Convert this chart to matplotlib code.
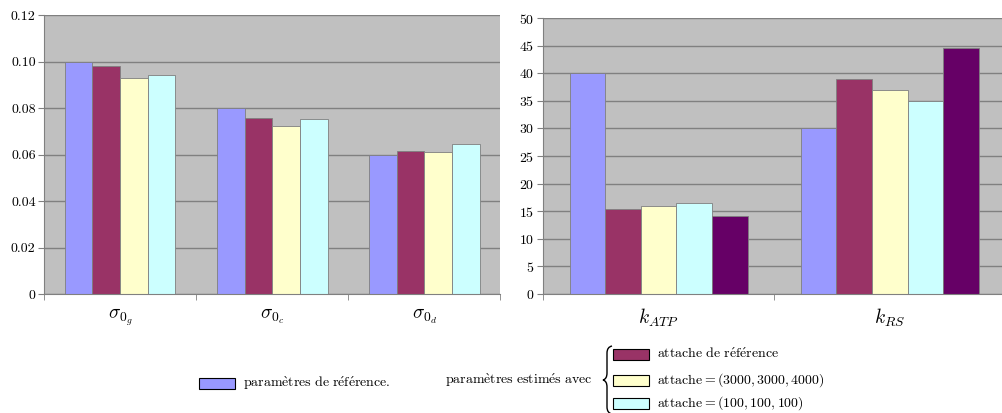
import numpy as np
import matplotlib
matplotlib.use("Agg")
import matplotlib.pyplot as plt
from matplotlib.patches import Rectangle, PathPatch
from matplotlib.path import Path

plt.rcParams["font.family"] = ["cmr10", "DejaVu Serif"]
plt.rcParams["mathtext.fontset"] = "cm"
plt.rcParams["axes.unicode_minus"] = False
plt.rcParams["axes.formatter.use_mathtext"] = True

# données - panneau gauche (sigma)
sigma_labels = [r"$\sigma_{0_g}$", r"$\sigma_{0_c}$", r"$\sigma_{0_d}$"]
sigma_ref = [0.100, 0.080, 0.060]
sigma_att_ref = [0.098, 0.0757, 0.0614]
sigma_att_3000 = [0.093, 0.0721, 0.0609]
sigma_att_100 = [0.094, 0.0753, 0.0646]
sigma_ticks = [0, 0.02, 0.04, 0.06, 0.08, 0.10, 0.12]
sigma_ticklabels = ["0", "0.02", "0.04", "0.06", "0.08", "0.10", "0.12"]

# données - panneau droit (k)
k_labels = [r"$k_{ATP}$", r"$k_{RS}$"]
k_ref = [40, 30]
k_att_ref = [15.4, 38.9]
k_att_3000 = [15.9, 36.9]
k_att_100 = [16.4, 34.9]
k_extra = [14.1, 44.6]
k_ticks = list(range(0, 55, 5))

colors = ["#9999FF", "#993366", "#FFFFCC", "#CCFFFF", "#660066"]
W, H = 1003, 413

fig = plt.figure(figsize=(W / 100, H / 100), dpi=100)


def px(x, y):
    return x / W, 1 - y / H


def style_axes(ax):
    ax.set_facecolor("#C0C0C0")
    ax.grid(True, axis="y", color="#808080", linewidth=1)
    ax.set_axisbelow(True)
    for s in ["top", "right"]:
        ax.spines[s].set_visible(False)
    for s in ["left", "bottom"]:
        ax.spines[s].set_color("#808080")
    ax.tick_params(axis="y", length=4, color="#808080", pad=2, labelsize=10)
    ax.tick_params(axis="x", which="major", length=0, pad=9, labelsize=14)
    ax.tick_params(axis="x", which="minor", length=4, color="#808080")


def draw_bars(ax, series, width, ncat):
    x = np.arange(ncat)
    n = len(series)
    for i, vals in enumerate(series):
        ax.bar(x + (i - (n - 1) / 2) * width, vals, width,
               color=colors[i], edgecolor="#7f7f7f", linewidth=0.6)
    ax.set_xticks(x)
    ax.set_xticks(np.arange(ncat + 1) - 0.5, minor=True)


# panneau gauche
ax1 = fig.add_axes([44 / W, 1 - 294 / H, (500.5 - 44) / W, (294 - 15) / H])
style_axes(ax1)
draw_bars(ax1, [sigma_ref, sigma_att_ref, sigma_att_3000, sigma_att_100], 0.182, 3)
ax1.set_xticklabels(sigma_labels)
ax1.set_xlim(-0.5, 2.5)
ax1.set_ylim(0, 0.12)
ax1.set_yticks(sigma_ticks)
ax1.set_yticklabels(sigma_ticklabels)

# panneau droit
ax2 = fig.add_axes([543 / W, 1 - 294 / H, (W - 543) / W, (294 - 18) / H])
style_axes(ax2)
draw_bars(ax2, [k_ref, k_att_ref, k_att_3000, k_att_100, k_extra], 0.154, 2)
ax2.set_xticklabels(k_labels)
ax2.set_xlim(-0.5, 1.49)
ax2.set_ylim(0, 50)
ax2.set_yticks(k_ticks)

# légende
def legend_item(x, y, color, text):
    fig.add_artist(Rectangle(px(x, y + 5.5), 36 / W, 11 / H, transform=fig.transFigure,
                             facecolor=color, edgecolor="black", linewidth=0.8))
    fig.text(*px(x + 44, y), text, fontsize=10, va="center", ha="left")


legend_item(199, 383, colors[0], r"$\mathrm{param\grave{e}tres\ de\ r\acute{e}f\acute{e}rence.}$")
fig.text(*px(593, 380), r"$\mathrm{param\grave{e}tres\ estim\acute{e}s\ avec}$",
         fontsize=10, va="center", ha="right")
legend_item(613, 354, colors[1], r"$\mathrm{attache\ de\ r\acute{e}f\acute{e}rence}$")
legend_item(613, 380, colors[2], r"$\mathrm{attache} = (3000, 3000, 4000)$")
legend_item(613, 403, colors[3], r"$\mathrm{attache} = (100, 100, 100)$")

# accolade
bx, top, mid, bot = 607, 346, 380, 414
pts = [(bx + 5, top), (bx, top + 1), (bx, top + 7),
       (bx, mid - 7), (bx, mid - 1), (bx - 4, mid),
       (bx, mid + 1), (bx, mid + 7),
       (bx, bot - 7), (bx, bot - 1), (bx + 5, bot)]
codes = [Path.MOVETO, Path.CURVE3, Path.CURVE3,
         Path.LINETO, Path.CURVE3, Path.CURVE3,
         Path.CURVE3, Path.CURVE3,
         Path.LINETO, Path.CURVE3, Path.CURVE3]
brace = Path([px(*p) for p in pts], codes)
fig.add_artist(PathPatch(brace, transform=fig.transFigure, facecolor="none",
                         edgecolor="black", linewidth=1))

fig.savefig("out.png", dpi=100)
